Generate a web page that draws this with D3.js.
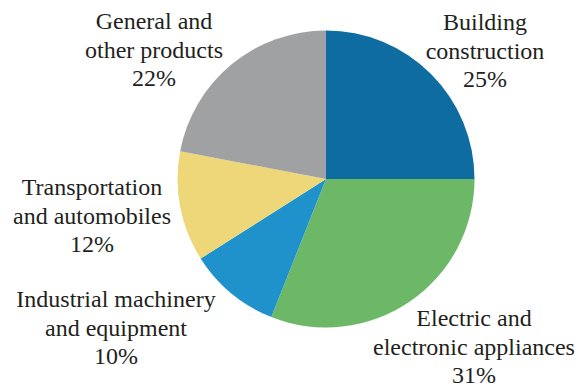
<!DOCTYPE html>
<html>
<head>
<meta charset="utf-8">
<script src="https://cdn.jsdelivr.net/npm/d3@7"></script>
</head>
<body style="margin:0">
<svg id="chart" width="578" height="390" style="font-family: 'Times New Roman', 'Liberation Serif', serif"></svg>
<script>
// Market share by application sector (percent)
const categories = [
  "Building construction",
  "Electric and electronic appliances",
  "Industrial machinery and equipment",
  "Transportation and automobiles",
  "General and other products"
];
const values = [25, 31, 10, 12, 22];
const colors = ["#0e6ca1", "#6cb867", "#1f92cc", "#edd779", "#a0a1a3"];
// Label lines as printed next to each slice
const labelLines = [
  ["Building", "construction"],
  ["Electric and", "electronic appliances"],
  ["Industrial machinery", "and equipment"],
  ["Transportation", "and automobiles"],
  ["General and", "other products"]
];
// Anchor of each label block (center x, first baseline y)
const labelAnchors = [
  [485, 30],
  [474, 326],
  [116, 307],
  [92, 195],
  [154, 29]
];

const svg = d3.select("#chart");
const cx = 326, cy = 179, radius = 148.5;

const pie = d3.pie().sort(null).value(d => d);
const arc = d3.arc().innerRadius(0).outerRadius(radius);
const color = d3.scaleOrdinal().domain(categories).range(colors);

svg.selectAll("path.slice")
  .data(pie(values))
  .join("path")
  .attr("class", "slice")
  .attr("transform", `translate(${cx},${cy})`)
  .attr("d", arc)
  .attr("fill", (d, i) => color(categories[i]));

// One text element per printed line, centred on the label anchor
const lineHeight = 28.7;
categories.forEach((c, i) => {
  const [x, y] = labelAnchors[i];
  const lines = labelLines[i].concat([values[i] + "%"]);
  lines.forEach((ln, k) => {
    svg.append("text")
      .attr("x", x)
      .attr("y", y + k * lineHeight)
      .attr("text-anchor", "middle")
      .attr("font-family", "Times New Roman")
      .style("font-family", "Times New Roman")
      .style("font-size", "24px")
      .style("fill", "#231f20")
      .text(ln);
  });
});
</script>
</body>
</html>
